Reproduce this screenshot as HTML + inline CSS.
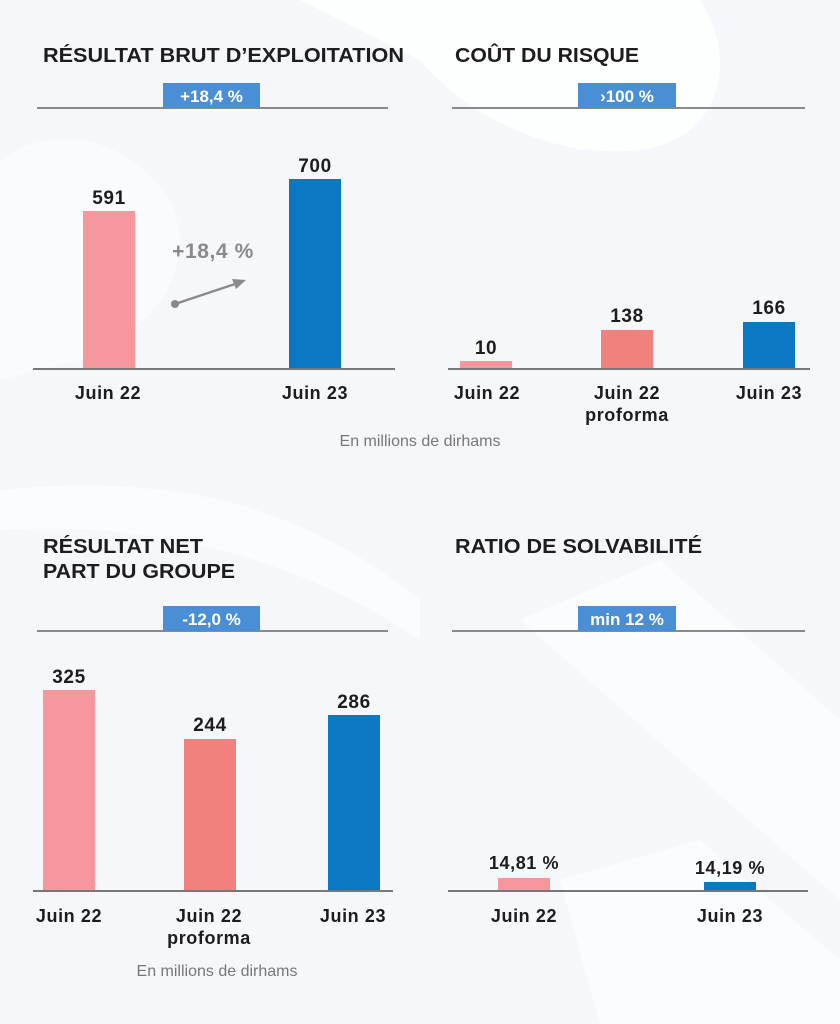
<!DOCTYPE html>
<html><head><meta charset="utf-8"><style>
html,body{margin:0;padding:0;background:#f6f8fb;}
svg{display:block;font-family:"Liberation Sans",sans-serif;}
.l{letter-spacing:0.6px}
</style></head><body>
<svg width="840" height="1024" viewBox="0 0 840 1024" xmlns="http://www.w3.org/2000/svg">
<rect width="840" height="1024" fill="#f5f7fa"/>
<path d="M300 0 C420 0 560 0 700 0 C740 60 720 140 640 150 C560 160 470 120 420 60 Z" fill="#ffffff" opacity="0.8"/>
<path d="M0 160 C60 120 130 140 170 200 C200 260 160 330 80 360 L0 380 Z" fill="#ffffff" opacity="0.5"/>
<path d="M520 620 L660 560 L840 720 L840 900 Z" fill="#ffffff" opacity="0.6"/>
<path d="M560 880 L700 840 L840 960 L840 1024 L600 1024 Z" fill="#ffffff" opacity="0.6"/>
<path d="M0 490 C200 470 320 520 420 600 L420 640 C300 560 160 520 0 530 Z" fill="#ffffff" opacity="0.6"/>

<g font-weight="bold" fill="#1d1d1f">
<!-- Panel 1 -->
<text x="43" y="62" font-size="20" textLength="361" lengthAdjust="spacingAndGlyphs">RÉSULTAT BRUT D’EXPLOITATION</text>
<line x1="37" y1="108" x2="388" y2="108" stroke="#8a8a8a" stroke-width="2"/>
<rect x="163" y="83" width="97" height="25" fill="#4a8fd6"/>
<text x="211.5" y="102" font-size="17" fill="#fff" text-anchor="middle">+18,4 %</text>
<rect x="83" y="211" width="52" height="158" fill="#f5979c"/>
<rect x="289" y="179" width="52" height="190" fill="#0a78c2"/>
<line x1="33" y1="369" x2="395" y2="369" stroke="#777" stroke-width="2"/>
<text class="l" x="109" y="204" font-size="19" text-anchor="middle">591</text>
<text class="l" x="315" y="172" font-size="19" text-anchor="middle">700</text>
<text class="l" x="213" y="258" font-size="21" fill="#8a8a8a" text-anchor="middle">+18,4 %</text>
<circle cx="175" cy="304" r="4" fill="#8a8a8a"/>
<line x1="175" y1="304" x2="238" y2="283" stroke="#8a8a8a" stroke-width="2.5"/>
<polygon points="246,280 232,279 236,289" fill="#8a8a8a"/>
<text class="l" x="108" y="399" font-size="18" text-anchor="middle">Juin 22</text>
<text class="l" x="315" y="399" font-size="18" text-anchor="middle">Juin 23</text>

<!-- Panel 2 -->
<text x="455" y="62" font-size="20" textLength="184" lengthAdjust="spacingAndGlyphs">COÛT DU RISQUE</text>
<line x1="452" y1="108" x2="805" y2="108" stroke="#8a8a8a" stroke-width="2"/>
<rect x="578" y="83" width="98" height="25" fill="#4a8fd6"/>
<text x="627" y="102" font-size="17" fill="#fff" text-anchor="middle">›100 %</text>
<rect x="460" y="361" width="52" height="8" fill="#f5979c"/>
<rect x="601" y="330" width="52" height="39" fill="#f2807c"/>
<rect x="743" y="322" width="52" height="47" fill="#0a78c2"/>
<line x1="448" y1="369" x2="810" y2="369" stroke="#777" stroke-width="2"/>
<text class="l" x="486" y="354" font-size="19" text-anchor="middle">10</text>
<text class="l" x="627" y="322" font-size="19" text-anchor="middle">138</text>
<text class="l" x="769" y="314" font-size="19" text-anchor="middle">166</text>
<text class="l" x="487" y="399" font-size="18" text-anchor="middle">Juin 22</text>
<text class="l" x="627" y="399" font-size="18" text-anchor="middle">Juin 22</text>
<text class="l" x="627" y="421" font-size="18" text-anchor="middle">proforma</text>
<text class="l" x="769" y="399" font-size="18" text-anchor="middle">Juin 23</text>
<text x="420" y="446" font-size="16" font-weight="normal" fill="#777" text-anchor="middle">En millions de dirhams</text>

<!-- Panel 3 -->
<text x="43" y="553" font-size="20" textLength="160" lengthAdjust="spacingAndGlyphs">RÉSULTAT NET</text>
<text x="43" y="578" font-size="20" textLength="192" lengthAdjust="spacingAndGlyphs">PART DU GROUPE</text>
<line x1="37" y1="631" x2="388" y2="631" stroke="#8a8a8a" stroke-width="2"/>
<rect x="163" y="606" width="97" height="25" fill="#4a8fd6"/>
<text x="211.5" y="625" font-size="17" fill="#fff" text-anchor="middle">-12,0 %</text>
<rect x="43" y="690" width="52" height="201" fill="#f5979c"/>
<rect x="184" y="739" width="52" height="152" fill="#f2807c"/>
<rect x="328" y="715" width="52" height="176" fill="#0a78c2"/>
<line x1="33" y1="891" x2="393" y2="891" stroke="#777" stroke-width="2"/>
<text class="l" x="69" y="683" font-size="19" text-anchor="middle">325</text>
<text class="l" x="210" y="731" font-size="19" text-anchor="middle">244</text>
<text class="l" x="354" y="708" font-size="19" text-anchor="middle">286</text>
<text class="l" x="69" y="922" font-size="18" text-anchor="middle">Juin 22</text>
<text class="l" x="209" y="922" font-size="18" text-anchor="middle">Juin 22</text>
<text class="l" x="209" y="944" font-size="18" text-anchor="middle">proforma</text>
<text class="l" x="353" y="922" font-size="18" text-anchor="middle">Juin 23</text>
<text x="217" y="976" font-size="16" font-weight="normal" fill="#777" text-anchor="middle">En millions de dirhams</text>

<!-- Panel 4 -->
<text x="455" y="553" font-size="20" textLength="247" lengthAdjust="spacingAndGlyphs">RATIO DE SOLVABILITÉ</text>
<line x1="452" y1="631" x2="805" y2="631" stroke="#8a8a8a" stroke-width="2"/>
<rect x="578" y="606" width="98" height="25" fill="#4a8fd6"/>
<text x="627" y="625" font-size="17" fill="#fff" text-anchor="middle">min 12 %</text>
<rect x="498" y="878" width="52" height="13" fill="#f5979c"/>
<rect x="704" y="882" width="52" height="9" fill="#0a78c2"/>
<line x1="448" y1="891" x2="808" y2="891" stroke="#777" stroke-width="2"/>
<text class="l" x="524" y="869" font-size="18" text-anchor="middle">14,81 %</text>
<text class="l" x="730" y="874" font-size="18" text-anchor="middle">14,19 %</text>
<text class="l" x="524" y="922" font-size="18" text-anchor="middle">Juin 22</text>
<text class="l" x="730" y="922" font-size="18" text-anchor="middle">Juin 23</text>
</g>
</svg>
</body></html>
